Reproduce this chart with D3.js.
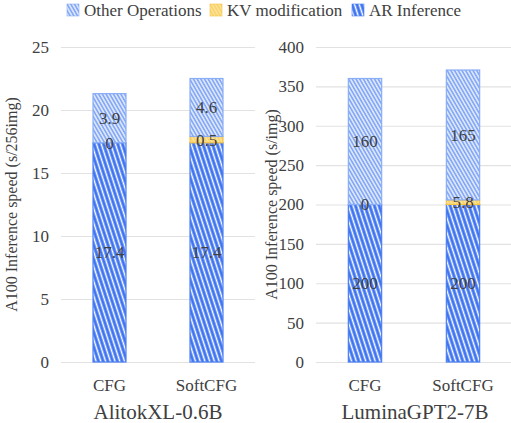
<!DOCTYPE html>
<html>
<head>
<meta charset="utf-8">
<script src="https://cdn.jsdelivr.net/npm/d3@7"></script>
<style>
  body { margin: 0; background: #fff; }
  svg text { font-family: 'Liberation Serif', 'Times New Roman', Times, 'DejaVu Serif', serif; fill: #404040; }
</style>
</head>
<body>
<div id="chart"></div>
<script>
const methods = ["CFG", "SoftCFG"];
const seriesNames = ["Other Operations", "KV modification", "AR Inference"];

// AlitokXL-0.6B (s/256img)
const alitokAR = [17.4, 17.4];
const alitokKV = [0, 0.5];
const alitokOther = [3.9, 4.6];
const alitokTicks = [0, 5, 10, 15, 20, 25];

// LuminaGPT2-7B (s/img)
const luminaAR = [200, 200];
const luminaKV = [0, 5.8];
const luminaOther = [160, 165];
const luminaTicks = [0, 50, 100, 150, 200, 250, 300, 350, 400];

const W = 511, H = 423;
const FONT = "'Liberation Serif', 'Times New Roman', Times, serif";
const svg = d3.select("#chart").append("svg")
  .attr("width", W)
  .attr("height", H)
  .attr("font-family", FONT);

// hatch patterns
const defs = svg.append("defs");
function hatch(id, base, line, width, spacing, angle) {
  const p = defs.append("pattern")
    .attr("id", id)
    .attr("patternUnits", "userSpaceOnUse")
    .attr("width", spacing)
    .attr("height", 10)
    .attr("patternTransform", `rotate(${angle})`);
  p.append("rect").attr("width", spacing).attr("height", 10).attr("fill", base);
  p.append("line")
    .attr("x1", spacing / 2).attr("x2", spacing / 2)
    .attr("y1", 0).attr("y2", 10)
    .attr("stroke", line)
    .attr("stroke-width", width);
}
hatch("hatch-ar", "#3f74f1", "#ffffff", 1.5, 4.5, -18);
hatch("hatch-other", "#86a9f6", "#e8efff", 1.4, 3.2, -30);
hatch("hatch-kv", "#fad46e", "#fde7a6", 1, 3, -30);

const fills = {
  "AR Inference": "url(#hatch-ar)",
  "KV modification": "url(#hatch-kv)",
  "Other Operations": "url(#hatch-other)"
};
const strokes = {
  "AR Inference": "#4a7ff4",
  "KV modification": "#f6c445",
  "Other Operations": "#8aaef6"
};

// legend
const legendX = [67, 210, 352];
seriesNames.forEach((name, i) => {
  const g = svg.append("g").attr("transform", `translate(${legendX[i]}, 4)`);
  g.append("rect")
    .attr("width", 12).attr("height", 12)
    .attr("fill", fills[name])
    .attr("stroke", strokes[name]).attr("stroke-width", 0.6);
  g.append("text")
    .attr("x", 17).attr("y", 11.5)
    .style("font-size", "17px")
    .text(name);
});

function panel(opts) {
  const {x0, x1, ar, kv, other, ticks, maxY, title, yLabel, labelX, titleX} = opts;
  const top = 47, bottom = 362;

  const x = d3.scaleBand()
    .domain(methods)
    .range([x0, x1])
    .paddingInner(0.66)
    .paddingOuter(0.33);
  const y = d3.scaleLinear()
    .domain([0, maxY])
    .range([bottom, top]);

  const g = svg.append("g");

  // grid lines
  g.append("g")
    .attr("transform", `translate(${x0}, 0)`)
    .call(d3.axisLeft(y).tickValues(ticks).tickSize(-(x1 - x0)).tickFormat(""))
    .call(a => a.select(".domain").remove())
    .call(a => a.selectAll("line").attr("stroke", "#e2e2e2").attr("stroke-width", 1.2));

  // tick labels
  g.selectAll(".ylab")
    .data(ticks)
    .enter()
    .append("text")
      .attr("x", x0 - 12)
      .attr("y", d => y(d))
      .attr("dy", "0.35em")
      .attr("text-anchor", "end")
      .style("font-size", "17px")
      .text(d => d);

  // stacks
  const rows = methods.map((m, i) => ({
    method: m,
    "AR Inference": ar[i],
    "KV modification": kv[i],
    "Other Operations": other[i]
  }));
  const stack = d3.stack().keys(["AR Inference", "KV modification", "Other Operations"]);
  const layers = stack(rows);

  layers.forEach(layer => {
    g.selectAll(null)
      .data(layer.filter(d => d[1] > d[0]))
      .enter()
      .append("rect")
        .attr("x", d => x(d.data.method))
        .attr("y", d => y(d[1]))
        .attr("width", x.bandwidth())
        .attr("height", d => y(d[0]) - y(d[1]))
        .attr("fill", fills[layer.key])
        .attr("stroke", strokes[layer.key])
        .attr("stroke-width", 1.2);
  });

  // value labels
  layers.forEach(layer => {
    g.selectAll(null)
      .data(layer)
      .enter()
      .append("text")
        .attr("x", d => x(d.data.method) + x.bandwidth() / 2)
        .attr("y", d => y((d[0] + d[1]) / 2))
        .attr("dy", "0.35em")
        .attr("text-anchor", "middle")
        .style("font-size", "17px")
        .text(d => d.data[layer.key]);
  });

  // x tick labels
  g.selectAll(".xlab")
    .data(methods)
    .enter()
    .append("text")
      .attr("x", d => x(d) + x.bandwidth() / 2)
      .attr("y", 391)
      .attr("text-anchor", "middle")
      .style("font-size", "17px")
      .text(d => d);

  g.append("text")
    .attr("x", titleX)
    .attr("y", 419)
    .attr("text-anchor", "middle")
    .style("font-size", "21px")
    .text(title);

  g.append("text")
    .attr("transform", `translate(${labelX}, ${(top + bottom) / 2}) rotate(-90)`)
    .attr("text-anchor", "middle")
    .style("font-size", "16px")
    .text(yLabel);
}

panel({
  x0: 61, x1: 255, ar: alitokAR, kv: alitokKV, other: alitokOther,
  ticks: alitokTicks, maxY: 25, title: "AlitokXL-0.6B",
  yLabel: "A100 Inference speed (s/256img)", labelX: 17, titleX: 158
});
panel({
  x0: 316, x1: 512, ar: luminaAR, kv: luminaKV, other: luminaOther,
  ticks: luminaTicks, maxY: 400, title: "LuminaGPT2-7B",
  yLabel: "A100 Inference speed (s/img)", labelX: 277, titleX: 415
});
</script>
</body>
</html>
